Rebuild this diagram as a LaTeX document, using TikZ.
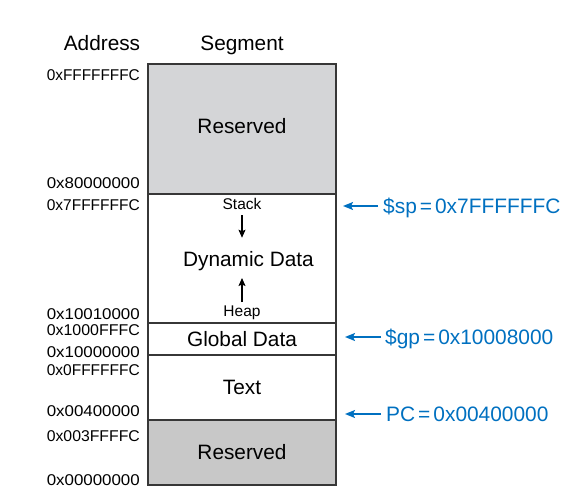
\documentclass[tikz,border=0pt]{standalone}
\usepackage{fontspec}
\usepackage{graphicx}
\setmainfont{Liberation Sans}
\usetikzlibrary{arrows.meta}
\definecolor{sgblue}{RGB}{0,112,192}
\definecolor{resA}{RGB}{212,213,215}
\definecolor{resB}{RGB}{200,200,200}
\definecolor{edge}{RGB}{55,55,55}
\newcommand{\addrtxt}[1]{\resizebox{93pt}{\height}{#1}}
\begin{document}
\begin{tikzpicture}[x=1pt,y=-1pt,
  segbox/.style={draw=edge, line width=1.2pt},
  mainlbl/.style={font=\fontsize{20.8}{24}\selectfont, inner sep=0pt, anchor=base},
  smalllbl/.style={font=\fontsize{15.5}{18}\selectfont, inner sep=0pt, anchor=base},
  addrlbl/.style={font=\fontsize{15.6}{18}\selectfont, inner sep=0pt, anchor=base east},
  bluelbl/.style={font=\fontsize{20.9}{24}\selectfont, text=sgblue, inner sep=0pt, anchor=base west},
  blkarrow/.style={line width=1.1pt, -{Stealth[length=8pt,width=7pt,inset=1.5pt]}},
  bluearrow/.style={draw=sgblue, line width=1.5pt, -{Stealth[length=10pt,width=8pt,inset=2pt]}}
]
\useasboundingbox (0,0) rectangle (576,500);

% segments
\draw[segbox, fill=resA] (148,64) rectangle (336,194);
\draw[segbox, fill=white] (148,194) rectangle (336,323);
\draw[segbox, fill=white] (148,323) rectangle (336,355);
\draw[segbox, fill=white] (148,355) rectangle (336,420);
\draw[segbox, fill=resB] (148,420) rectangle (336,485);

% headers
\node[mainlbl] (hAddr) at (102,50.5) {Address};
\node[mainlbl] (hSeg) at (242,50.5) {Segment};

% segment labels
\node[mainlbl] (res1) at (242,133.5) {Reserved};
\node[smalllbl] (stack) at (242,210) {Stack};
\node[mainlbl] (dyn) at (248.5,266) {Dynamic Data};
\node[smalllbl] (heap) at (242,316) {Heap};
\node[mainlbl] (glob) at (242,346.5) {Global Data};
\node[mainlbl] (txt) at (242,394.5) {Text};
\node[mainlbl] (res2) at (242,459.5) {Reserved};

\draw[blkarrow, shorten <=5pt, shorten >=13pt] (stack.south) -- (stack.south |- dyn.north);
\draw[blkarrow, shorten <=3pt, shorten >=7.5pt] (heap.north) -- (heap.north |- dyn.south);

% addresses
\node[addrlbl] (a1) at (140,81) {\addrtxt{0xFFFFFFFC}};
\node[addrlbl] (a2) at (140,188.5) {\addrtxt{0x80000000}};
\node[addrlbl] (a3) at (140,210.5) {\addrtxt{0x7FFFFFFC}};
\node[addrlbl] (a4) at (140,319.5) {\addrtxt{0x10010000}};
\node[addrlbl] (a5) at (140,335.5) {\addrtxt{0x1000FFFC}};
\node[addrlbl] (a6) at (140,357.5) {\addrtxt{0x10000000}};
\node[addrlbl] (a7) at (140,375.5) {\addrtxt{0x0FFFFFFC}};
\node[addrlbl] (a8) at (140,416.5) {\addrtxt{0x00400000}};
\node[addrlbl] (a9) at (140,441.5) {\addrtxt{0x003FFFFC}};
\node[addrlbl] (a10) at (140,485.5) {\addrtxt{0x00000000}};

% pointers
\node[bluelbl] (sp) at (383,213.4) {\$sp\hspace{3pt}=\hspace{3pt}0x7FFFFFFC};
\node[bluelbl] (gp) at (385,344.4) {\$gp\hspace{3pt}=\hspace{3pt}0x10008000};
\node[bluelbl] (pc) at (386,421.4) {PC\hspace{3pt}=\hspace{3pt}0x00400000};

\coordinate (spTip) at (343,206);
\coordinate (gpTip) at (345,337);
\coordinate (pcTip) at (345,414);
\draw[bluearrow, shorten <=5pt] (sp.west |- spTip) -- (spTip);
\draw[bluearrow, shorten <=4pt] (gp.west |- gpTip) -- (gpTip);
\draw[bluearrow, shorten <=5pt] (pc.west |- pcTip) -- (pcTip);
\end{tikzpicture}
\end{document}
